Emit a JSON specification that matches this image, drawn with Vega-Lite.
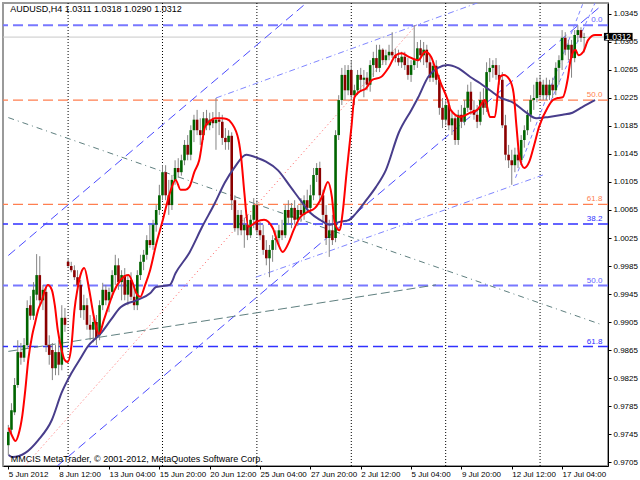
{
"$schema":"https://vega.github.io/schema/vega-lite/v6.json",
"width":605,"height":463,
"autosize":{"type":"none"},
"padding":{"left":3,"top":3,"right":32,"bottom":14},
"background":"#ffffff",
"config":{"view":{"stroke":"#9a9a9a","strokeWidth":2},"font":"Liberation Sans Narrow, Liberation Sans, sans-serif"},
"datasets":{
"candles":[
{"n":0,"o":0.9729,"h":0.9758,"l":0.9715,"c":0.9748},
{"n":1,"o":0.9751,"h":0.9789,"l":0.9742,"c":0.9779},
{"n":2,"o":0.9776,"h":0.9825,"l":0.9772,"c":0.9815},
{"n":3,"o":0.9815,"h":0.9879,"l":0.9811,"c":0.9862},
{"n":4,"o":0.9862,"h":0.9875,"l":0.9844,"c":0.9854},
{"n":5,"o":0.9854,"h":0.9882,"l":0.9848,"c":0.9872},
{"n":6,"o":0.9872,"h":0.9936,"l":0.9868,"c":0.9925},
{"n":7,"o":0.9929,"h":0.9942,"l":0.9908,"c":0.9914},
{"n":8,"o":0.9914,"h":0.9962,"l":0.9908,"c":0.9951},
{"n":9,"o":0.9944,"h":1.0002,"l":0.9936,"c":0.9972},
{"n":10,"o":0.9972,"h":0.9999,"l":0.9929,"c":0.9936},
{"n":11,"o":0.9936,"h":0.9958,"l":0.9922,"c":0.9951},
{"n":12,"o":0.9948,"h":0.9954,"l":0.9862,"c":0.9872},
{"n":13,"o":0.9872,"h":0.9886,"l":0.9844,"c":0.9858},
{"n":14,"o":0.9865,"h":0.9875,"l":0.9822,"c":0.9839},
{"n":15,"o":0.9839,"h":0.9872,"l":0.9829,"c":0.9862},
{"n":16,"o":0.9862,"h":0.9879,"l":0.9829,"c":0.9844},
{"n":17,"o":0.9844,"h":0.9929,"l":0.9836,"c":0.9911},
{"n":18,"o":0.9911,"h":0.9925,"l":0.9891,"c":0.9901},
{"n":19,"o":0.9991,"h":0.9996,"l":0.9982,"c":0.9985},
{"n":20,"o":0.9985,"h":0.9991,"l":0.9976,"c":0.9979},
{"n":21,"o":0.9979,"h":0.9986,"l":0.9965,"c":0.9969},
{"n":22,"o":0.9969,"h":0.9979,"l":0.9951,"c":0.9958},
{"n":23,"o":0.9958,"h":0.9965,"l":0.9911,"c":0.9922},
{"n":24,"o":0.9922,"h":0.9944,"l":0.9908,"c":0.9929},
{"n":25,"o":0.9929,"h":0.9939,"l":0.9894,"c":0.9901},
{"n":26,"o":0.9901,"h":0.9915,"l":0.9879,"c":0.9894},
{"n":27,"o":0.9894,"h":0.9911,"l":0.9876,"c":0.9905},
{"n":28,"o":0.9905,"h":0.9915,"l":0.9872,"c":0.9882},
{"n":29,"o":0.9886,"h":0.9936,"l":0.9879,"c":0.9929},
{"n":30,"o":0.9929,"h":0.9961,"l":0.9922,"c":0.9951},
{"n":31,"o":0.9951,"h":0.9958,"l":0.9929,"c":0.9936},
{"n":32,"o":0.9936,"h":0.9954,"l":0.9919,"c":0.9948},
{"n":33,"o":0.9948,"h":0.9979,"l":0.9939,"c":0.9972},
{"n":34,"o":0.9972,"h":1.0001,"l":0.9958,"c":0.9986},
{"n":35,"o":0.9986,"h":0.9996,"l":0.9951,"c":0.9962},
{"n":36,"o":0.9962,"h":0.9979,"l":0.9936,"c":0.9972},
{"n":37,"o":0.9972,"h":0.9982,"l":0.9936,"c":0.9944},
{"n":38,"o":0.9944,"h":0.9972,"l":0.9929,"c":0.9965},
{"n":39,"o":0.9965,"h":0.9976,"l":0.9936,"c":0.9941},
{"n":40,"o":0.9941,"h":0.9958,"l":0.9922,"c":0.9929},
{"n":41,"o":0.9929,"h":0.9979,"l":0.9922,"c":0.9972},
{"n":42,"o":0.9972,"h":1.0001,"l":0.9965,"c":0.9991},
{"n":43,"o":0.9991,"h":1.0008,"l":0.9979,"c":1.0001},
{"n":44,"o":1.0001,"h":1.0029,"l":0.9994,"c":1.0022},
{"n":45,"o":1.0022,"h":1.0044,"l":1.0011,"c":1.0015},
{"n":46,"o":1.0015,"h":1.0051,"l":1.0008,"c":1.0044},
{"n":47,"o":1.0044,"h":1.0072,"l":1.0034,"c":1.0065},
{"n":48,"o":1.0065,"h":1.0101,"l":1.0058,"c":1.0086},
{"n":49,"o":1.0086,"h":1.0129,"l":1.0079,"c":1.0119},
{"n":50,"o":1.0119,"h":1.0129,"l":1.0079,"c":1.0086},
{"n":51,"o":1.0086,"h":1.0108,"l":1.0058,"c":1.0072},
{"n":52,"o":1.0072,"h":1.0115,"l":1.0065,"c":1.0108},
{"n":53,"o":1.0108,"h":1.0136,"l":1.0101,"c":1.0125},
{"n":54,"o":1.0125,"h":1.0139,"l":1.0111,"c":1.0119},
{"n":55,"o":1.0119,"h":1.0144,"l":1.0114,"c":1.0136},
{"n":56,"o":1.0136,"h":1.0165,"l":1.0129,"c":1.0158},
{"n":57,"o":1.0158,"h":1.0172,"l":1.0136,"c":1.0144},
{"n":58,"o":1.0144,"h":1.0186,"l":1.0136,"c":1.0179},
{"n":59,"o":1.0179,"h":1.0201,"l":1.0162,"c":1.0194},
{"n":60,"o":1.0194,"h":1.0208,"l":1.0172,"c":1.0179},
{"n":61,"o":1.0179,"h":1.0196,"l":1.0158,"c":1.0172},
{"n":62,"o":1.0172,"h":1.0205,"l":1.0165,"c":1.0196},
{"n":63,"o":1.0196,"h":1.0208,"l":1.0179,"c":1.0186},
{"n":64,"o":1.0186,"h":1.0204,"l":1.0179,"c":1.0194},
{"n":65,"o":1.0194,"h":1.0205,"l":1.0182,"c":1.0189},
{"n":66,"o":1.0189,"h":1.0225,"l":1.0151,"c":1.0194},
{"n":67,"o":1.0194,"h":1.0205,"l":1.0172,"c":1.0191},
{"n":68,"o":1.0191,"h":1.0201,"l":1.0158,"c":1.0168},
{"n":69,"o":1.0168,"h":1.0182,"l":1.0151,"c":1.0162},
{"n":70,"o":1.0162,"h":1.0179,"l":1.0151,"c":1.0171},
{"n":71,"o":1.0171,"h":1.0176,"l":1.0065,"c":1.0079},
{"n":72,"o":1.0079,"h":1.0086,"l":1.0034,"c":1.0039},
{"n":73,"o":1.0039,"h":1.0065,"l":1.0029,"c":1.0058},
{"n":74,"o":1.0058,"h":1.0065,"l":1.0029,"c":1.0036},
{"n":75,"o":1.0036,"h":1.0054,"l":1.0011,"c":1.0044},
{"n":76,"o":1.0044,"h":1.0058,"l":1.0022,"c":1.0029},
{"n":77,"o":1.0029,"h":1.0058,"l":1.0025,"c":1.0051},
{"n":78,"o":1.0051,"h":1.0082,"l":1.0039,"c":1.0072},
{"n":79,"o":1.0072,"h":1.0079,"l":1.0029,"c":1.0036},
{"n":80,"o":1.0036,"h":1.0048,"l":1.0022,"c":1.0029},
{"n":81,"o":1.0029,"h":1.0044,"l":1.0001,"c":1.0008},
{"n":82,"o":1.0008,"h":1.0022,"l":0.9986,"c":0.9996},
{"n":83,"o":0.9996,"h":1.0015,"l":0.9969,"c":1.0008},
{"n":84,"o":1.0008,"h":1.0029,"l":0.9991,"c":1.0022},
{"n":85,"o":1.0022,"h":1.0036,"l":1.0008,"c":1.0025},
{"n":86,"o":1.0025,"h":1.0044,"l":1.0015,"c":1.0036},
{"n":87,"o":1.0036,"h":1.0051,"l":1.0022,"c":1.0029},
{"n":88,"o":1.0029,"h":1.0072,"l":1.0025,"c":1.0065},
{"n":89,"o":1.0065,"h":1.0079,"l":1.0044,"c":1.0054},
{"n":90,"o":1.0054,"h":1.0075,"l":1.0039,"c":1.0068},
{"n":91,"o":1.0068,"h":1.0079,"l":1.0044,"c":1.0051},
{"n":92,"o":1.0051,"h":1.0072,"l":1.0042,"c":1.0065},
{"n":93,"o":1.0065,"h":1.0082,"l":1.0048,"c":1.0058},
{"n":94,"o":1.0058,"h":1.0086,"l":1.0051,"c":1.0079},
{"n":95,"o":1.0079,"h":1.0094,"l":1.0062,"c":1.0068},
{"n":96,"o":1.0068,"h":1.0101,"l":1.0062,"c":1.0086},
{"n":97,"o":1.0086,"h":1.0125,"l":1.0079,"c":1.0115},
{"n":98,"o":1.0115,"h":1.0132,"l":1.0105,"c":1.0125},
{"n":99,"o":1.0125,"h":1.0134,"l":1.0079,"c":1.0086},
{"n":100,"o":1.0086,"h":1.0094,"l":1.0048,"c":1.0058},
{"n":101,"o":1.0058,"h":1.0072,"l":1.0015,"c":1.0025},
{"n":102,"o":1.0025,"h":1.0051,"l":0.9998,"c":1.0036},
{"n":103,"o":1.0036,"h":1.0058,"l":1.0015,"c":1.0022},
{"n":104,"o":1.0025,"h":1.0179,"l":1.0019,"c":1.0172},
{"n":105,"o":1.0172,"h":1.0229,"l":1.0165,"c":1.0222},
{"n":106,"o":1.0222,"h":1.0268,"l":1.0215,"c":1.0258},
{"n":107,"o":1.0258,"h":1.0272,"l":1.0222,"c":1.0236},
{"n":108,"o":1.0236,"h":1.0272,"l":1.0229,"c":1.0265},
{"n":109,"o":1.0265,"h":1.0279,"l":1.0222,"c":1.0229},
{"n":110,"o":1.0229,"h":1.0244,"l":1.0215,"c":1.0236},
{"n":111,"o":1.0236,"h":1.0265,"l":1.0229,"c":1.0258},
{"n":112,"o":1.0258,"h":1.0268,"l":1.0234,"c":1.0251},
{"n":113,"o":1.0251,"h":1.0265,"l":1.0226,"c":1.0254},
{"n":114,"o":1.0254,"h":1.0262,"l":1.0236,"c":1.0244},
{"n":115,"o":1.0244,"h":1.0279,"l":1.0234,"c":1.0272},
{"n":116,"o":1.0272,"h":1.0291,"l":1.0255,"c":1.0282},
{"n":117,"o":1.0282,"h":1.0301,"l":1.0262,"c":1.0268},
{"n":118,"o":1.0268,"h":1.0301,"l":1.0262,"c":1.0294},
{"n":119,"o":1.0294,"h":1.0296,"l":1.0272,"c":1.0279},
{"n":120,"o":1.0279,"h":1.0294,"l":1.0272,"c":1.0286},
{"n":121,"o":1.0286,"h":1.0301,"l":1.0279,"c":1.0291},
{"n":122,"o":1.0291,"h":1.0319,"l":1.0282,"c":1.0286},
{"n":123,"o":1.0286,"h":1.0296,"l":1.0276,"c":1.0282},
{"n":124,"o":1.0282,"h":1.0294,"l":1.0271,"c":1.0276},
{"n":125,"o":1.0276,"h":1.0291,"l":1.0268,"c":1.0284},
{"n":126,"o":1.0284,"h":1.0291,"l":1.0265,"c":1.0272},
{"n":127,"o":1.0272,"h":1.0282,"l":1.0251,"c":1.0258},
{"n":128,"o":1.0258,"h":1.0279,"l":1.0248,"c":1.0272},
{"n":129,"o":1.0272,"h":1.0329,"l":1.0265,"c":1.0279},
{"n":130,"o":1.0279,"h":1.0305,"l":1.0268,"c":1.0296},
{"n":131,"o":1.0296,"h":1.0308,"l":1.0276,"c":1.0286},
{"n":132,"o":1.0286,"h":1.0305,"l":1.0272,"c":1.0294},
{"n":133,"o":1.0294,"h":1.0301,"l":1.0268,"c":1.0276},
{"n":134,"o":1.0276,"h":1.0286,"l":1.0248,"c":1.0254},
{"n":135,"o":1.0254,"h":1.0276,"l":1.0248,"c":1.0271},
{"n":136,"o":1.0271,"h":1.0279,"l":1.0244,"c":1.0251},
{"n":137,"o":1.0251,"h":1.0258,"l":1.0201,"c":1.0211},
{"n":138,"o":1.0211,"h":1.0225,"l":1.0182,"c":1.0194},
{"n":139,"o":1.0194,"h":1.0222,"l":1.0186,"c":1.0215},
{"n":140,"o":1.0215,"h":1.0222,"l":1.0179,"c":1.0186},
{"n":141,"o":1.0186,"h":1.0205,"l":1.0172,"c":1.0196},
{"n":142,"o":1.0196,"h":1.0201,"l":1.0158,"c":1.0165},
{"n":143,"o":1.0165,"h":1.0208,"l":1.0158,"c":1.0201},
{"n":144,"o":1.0201,"h":1.0215,"l":1.0182,"c":1.0191},
{"n":145,"o":1.0191,"h":1.0222,"l":1.0186,"c":1.0211},
{"n":146,"o":1.0211,"h":1.0244,"l":1.0205,"c":1.0234},
{"n":147,"o":1.0234,"h":1.0248,"l":1.0201,"c":1.0208},
{"n":148,"o":1.0208,"h":1.0222,"l":1.0194,"c":1.0201},
{"n":149,"o":1.0201,"h":1.0215,"l":1.0182,"c":1.0191},
{"n":150,"o":1.0191,"h":1.0234,"l":1.0186,"c":1.0222},
{"n":151,"o":1.0222,"h":1.0239,"l":1.0201,"c":1.0211},
{"n":152,"o":1.0211,"h":1.0276,"l":1.0205,"c":1.0262},
{"n":153,"o":1.0262,"h":1.0282,"l":1.0248,"c":1.0268},
{"n":154,"o":1.0268,"h":1.0279,"l":1.0254,"c":1.0272},
{"n":155,"o":1.0272,"h":1.0282,"l":1.0251,"c":1.0258},
{"n":156,"o":1.0258,"h":1.0272,"l":1.0244,"c":1.0251},
{"n":157,"o":1.0251,"h":1.0262,"l":1.0182,"c":1.0186},
{"n":158,"o":1.0186,"h":1.0201,"l":1.0136,"c":1.0144},
{"n":159,"o":1.0144,"h":1.0158,"l":1.0125,"c":1.0136},
{"n":160,"o":1.0136,"h":1.0151,"l":1.0101,"c":1.0129},
{"n":161,"o":1.0129,"h":1.0154,"l":1.0119,"c":1.0144},
{"n":162,"o":1.0144,"h":1.0154,"l":1.0125,"c":1.0136},
{"n":163,"o":1.0136,"h":1.0172,"l":1.0129,"c":1.0165},
{"n":164,"o":1.0165,"h":1.0186,"l":1.0154,"c":1.0179},
{"n":165,"o":1.0179,"h":1.0208,"l":1.0172,"c":1.0201},
{"n":166,"o":1.0201,"h":1.0229,"l":1.0191,"c":1.0222},
{"n":167,"o":1.0222,"h":1.0244,"l":1.0208,"c":1.0225},
{"n":168,"o":1.0225,"h":1.0254,"l":1.0219,"c":1.0248},
{"n":169,"o":1.0248,"h":1.0258,"l":1.0222,"c":1.0229},
{"n":170,"o":1.0229,"h":1.0251,"l":1.0222,"c":1.0244},
{"n":171,"o":1.0244,"h":1.0254,"l":1.0222,"c":1.0229},
{"n":172,"o":1.0229,"h":1.0251,"l":1.0222,"c":1.0244},
{"n":173,"o":1.0244,"h":1.0254,"l":1.0225,"c":1.0236},
{"n":174,"o":1.0236,"h":1.0276,"l":1.0229,"c":1.0268},
{"n":175,"o":1.0268,"h":1.0286,"l":1.0244,"c":1.0279},
{"n":176,"o":1.0279,"h":1.0322,"l":1.0265,"c":1.0311},
{"n":177,"o":1.0311,"h":1.0319,"l":1.0286,"c":1.0294},
{"n":178,"o":1.0294,"h":1.0308,"l":1.0279,"c":1.0301},
{"n":179,"o":1.0301,"h":1.0308,"l":1.0254,"c":1.0282},
{"n":180,"o":1.0282,"h":1.0322,"l":1.0276,"c":1.0315},
{"n":181,"o":1.0315,"h":1.0329,"l":1.0305,"c":1.0322},
{"n":182,"o":1.0322,"h":1.0326,"l":1.0305,"c":1.0311},
{"n":183,"o":1.0311,"h":1.0318,"l":1.0290,"c":1.0312}
],
"redma":[
{"n":0.1,"p":0.9754},{"n":1.34,"p":0.9741},{"n":2.28,"p":0.9735},{"n":3.22,"p":0.9744},{"n":4.47,"p":0.9772},{"n":5.4,"p":0.9808},{"n":6.34,"p":0.9851},{"n":7.59,"p":0.9886},{"n":8.52,"p":0.9904},{"n":9.46,"p":0.9922},{"n":10.71,"p":0.9936},{"n":11.65,"p":0.9951},{"n":12.58,"p":0.9958},{"n":13.83,"p":0.9951},{"n":14.77,"p":0.9929},{"n":15.7,"p":0.9894},{"n":16.95,"p":0.9865},{"n":17.89,"p":0.9851},{"n":18.83,"p":0.9848},{"n":20.08,"p":0.9872},{"n":21.01,"p":0.9922},{"n":21.95,"p":0.9951},{"n":23.2,"p":0.9976},{"n":24.13,"p":0.9982},{"n":25.7,"p":0.9951},{"n":27.26,"p":0.9911},{"n":28.82,"p":0.9888},{"n":30.38,"p":0.9908},{"n":31.94,"p":0.9929},{"n":33.5,"p":0.9948},{"n":35.69,"p":0.9965},{"n":38.19,"p":0.9972},{"n":39.75,"p":0.9958},{"n":40.68,"p":0.9946},{"n":41.93,"p":0.9941},{"n":43.49,"p":0.9958},{"n":45.06,"p":0.9979},{"n":46.93,"p":1.0015},{"n":49.12,"p":1.0051},{"n":51.31,"p":1.0089},{"n":53.18,"p":1.0108},{"n":54.74,"p":1.0094},{"n":56.3,"p":1.0094},{"n":57.55,"p":1.0098},{"n":59.11,"p":1.0119},{"n":60.67,"p":1.0136},{"n":62.54,"p":1.0184},{"n":64.1,"p":1.0192},{"n":65.66,"p":1.0196},{"n":67.85,"p":1.0196},{"n":69.41,"p":1.0195},{"n":70.97,"p":1.0189},{"n":73.16,"p":1.0165},{"n":74.09,"p":1.0136},{"n":75.03,"p":1.0089},{"n":76.28,"p":1.0041},{"n":78.78,"p":1.0048},{"n":81.27,"p":1.0051},{"n":84.08,"p":1.0039},{"n":85.64,"p":1.0018},{"n":87.2,"p":1.0005},{"n":89.08,"p":1.0018},{"n":90.64,"p":1.0036},{"n":92.83,"p":1.0055},{"n":95.01,"p":1.0062},{"n":97.51,"p":1.0068},{"n":99.7,"p":1.0084},{"n":101.57,"p":1.0105},{"n":102.82,"p":1.0084},{"n":103.76,"p":1.0046},{"n":105.32,"p":1.0036},{"n":106.25,"p":1.0061},{"n":107.5,"p":1.0118},{"n":109.06,"p":1.0184},{"n":110.0,"p":1.0226},{"n":111.56,"p":1.0234},{"n":113.75,"p":1.0239},{"n":115.62,"p":1.0251},{"n":118.43,"p":1.0255},{"n":120.93,"p":1.0269},{"n":123.11,"p":1.0286},{"n":124.99,"p":1.0289},{"n":127.17,"p":1.0284},{"n":130.29,"p":1.0279},{"n":132.48,"p":1.0291},{"n":134.35,"p":1.0284},{"n":135.6,"p":1.0269},{"n":137.47,"p":1.0246},{"n":139.66,"p":1.0222},{"n":140.59,"p":1.0208},{"n":143.71,"p":1.0198},{"n":146.84,"p":1.0204},{"n":149.02,"p":1.0208},{"n":151.52,"p":1.0222},{"n":153.08,"p":1.0198},{"n":154.64,"p":1.0198},{"n":156.2,"p":1.0255},{"n":157.45,"p":1.0258},{"n":159.33,"p":1.0251},{"n":160.58,"p":1.0232},{"n":161.51,"p":1.0184},{"n":162.45,"p":1.0141},{"n":164.01,"p":1.0125},{"n":165.57,"p":1.0134},{"n":167.13,"p":1.0158},{"n":168.69,"p":1.0184},{"n":171.5,"p":1.0212},{"n":173.06,"p":1.0222},{"n":174.62,"p":1.0225},{"n":176.18,"p":1.0226},{"n":177.74,"p":1.0251},{"n":178.68,"p":1.0279},{"n":180.24,"p":1.0294},{"n":181.18,"p":1.0286},{"n":182.74,"p":1.0291},{"n":184.3,"p":1.0308},{"n":186.49,"p":1.0315},{"n":188.67,"p":1.0315}
],
"bluema":[
{"n":0.1,"p":0.9715},{"n":1.34,"p":0.9712},{"n":5.4,"p":0.9718},{"n":9.46,"p":0.9736},{"n":13.83,"p":0.9765},{"n":16.95,"p":0.9804},{"n":20.08,"p":0.9832},{"n":23.2,"p":0.9855},{"n":25.07,"p":0.9869},{"n":29.45,"p":0.9889},{"n":32.57,"p":0.9908},{"n":35.69,"p":0.9926},{"n":40.68,"p":0.9936},{"n":45.06,"p":0.9946},{"n":46.93,"p":0.9955},{"n":51.31,"p":0.9958},{"n":53.18,"p":0.9975},{"n":57.55,"p":1.0004},{"n":61.61,"p":1.0041},{"n":65.66,"p":1.0075},{"n":68.78,"p":1.0104},{"n":71.91,"p":1.0126},{"n":75.65,"p":1.0144},{"n":79.4,"p":1.0139},{"n":81.89,"p":1.0134},{"n":85.64,"p":1.0122},{"n":89.7,"p":1.0098},{"n":92.83,"p":1.0079},{"n":95.95,"p":1.0061},{"n":99.07,"p":1.0051},{"n":102.19,"p":1.0044},{"n":105.32,"p":1.0048},{"n":108.44,"p":1.0051},{"n":110.62,"p":1.0061},{"n":113.75,"p":1.0079},{"n":116.87,"p":1.0098},{"n":119.99,"p":1.0122},{"n":124.05,"p":1.0175},{"n":128.11,"p":1.0208},{"n":130.29,"p":1.0226},{"n":133.41,"p":1.0255},{"n":136.53,"p":1.0268},{"n":139.66,"p":1.0272},{"n":142.78,"p":1.0268},{"n":146.84,"p":1.0255},{"n":149.96,"p":1.0246},{"n":153.08,"p":1.0236},{"n":156.2,"p":1.0226},{"n":160.58,"p":1.0218},{"n":164.64,"p":1.0204},{"n":167.77,"p":1.0196},{"n":171.83,"p":1.0198},{"n":176.18,"p":1.0201},{"n":179.3,"p":1.0204},{"n":182.42,"p":1.0212},{"n":186.49,"p":1.0222}
],
"lines":[
{"id":"a","n":0,"p":1.0000},{"id":"a","n":94.8,"p":1.0361},
{"id":"b","n":15.53,"p":0.96993},{"id":"b","n":188.4,"p":1.03566},
{"id":"c","n":66,"p":1.0225},{"id":"c","n":149.2,"p":1.0361},
{"id":"d","n":78.66,"p":0.9969},{"id":"d","n":169.9,"p":1.0115},
{"id":"e","n":5.21,"p":0.9699},{"id":"e","n":129.6,"p":1.0329},
{"id":"f","n":0,"p":1.0197},{"id":"f","n":188.7,"p":0.9901},
{"id":"g","n":0,"p":0.9863},{"id":"g","n":135.9,"p":0.9958},
{"id":"h1","n":161.2,"p":1.0111},{"id":"h1","n":182.7,"p":1.0361},
{"id":"h2","n":168.7,"p":1.0184},{"id":"h2","n":186.5,"p":1.0361}
],
"levels":[
{"set":"b1","label":"0.0","p":1.0329},
{"set":"o","label":"50.0","p":1.0222},
{"set":"o","label":"61.8","p":1.0073},
{"set":"b2","label":"38.2","p":1.0045},
{"set":"b1","label":"50.0","p":0.9957},
{"set":"b2","label":"61.8","p":0.9870}
],
"seps":[{"n":19},{"n":49},{"n":79},{"n":109},{"n":139},{"n":169}],
"bid":[{"p":1.0312}],
"texts":[{"pos":"top","t":"AUDUSD,H4  1.0311 1.0318 1.0290 1.0312"},{"pos":"bottom","t":"MMCIS MetaTrader, © 2001-2012, MetaQuotes Software Corp."}]
},
"layer":[
{"data":{"name":"bid"},"mark":{"type":"rule","color":"#c8c8c8","strokeWidth":1},
 "encoding":{"y":{"field":"p","type":"quantitative","scale":{"domain":[0.96993,1.03607],"nice":false,"zero":false},"axis":{"orient":"right","values":[0.9705,0.9745,0.9785,0.9825,0.9865,0.9905,0.9945,0.9985,1.0025,1.0065,1.0105,1.0145,1.0185,1.0225,1.0265,1.0305,1.0345],"format":".4f","labelFontSize":8,"labelColor":"#000000","tickSize":3,"tickColor":"#000000","domainColor":"#000000","labelPadding":2,"grid":false,"title":null,"labelOverlap":false,"labelFlush":false,"labelBound":false}}}},
{"data":{"name":"seps"},"mark":{"type":"rule","color":"#000000","strokeWidth":1,"strokeDash":[1,2]},
 "encoding":{"x":{"field":"n","type":"quantitative","scale":{"domain":[-0.1,189],"nice":false,"zero":false},"axis":{"orient":"bottom","values":[0,16,32,48,64,80,96,112,128,144,160,176],"labelExpr":"['5 Jun 2012','8 Jun 12:00','13 Jun 04:00','15 Jun 20:00','20 Jun 12:00','25 Jun 04:00','27 Jun 20:00','2 Jul 12:00','5 Jul 04:00','9 Jul 20:00','12 Jul 12:00','17 Jul 04:00'][round(datum.value/16)]","labelAlign":"left","labelBaseline":"top","labelFontSize":8,"labelColor":"#000000","tickSize":3,"tickColor":"#000000","domainColor":"#000000","labelPadding":1,"grid":false,"title":null,"labelOverlap":false,"labelFlush":false,"labelBound":false}}}},
{"data":{"name":"levels"},"transform":[{"filter":"datum.set==='o'"}],"mark":{"type":"rule","color":"#ff7f50","strokeWidth":1.3,"strokeDash":[10,5]},
 "encoding":{"y":{"field":"p","type":"quantitative","scale":{"domain":[0.96993,1.03607],"nice":false,"zero":false},"axis":{"orient":"right","values":[0.9705,0.9745,0.9785,0.9825,0.9865,0.9905,0.9945,0.9985,1.0025,1.0065,1.0105,1.0145,1.0185,1.0225,1.0265,1.0305,1.0345],"format":".4f","labelFontSize":8,"labelColor":"#000000","tickSize":3,"tickColor":"#000000","domainColor":"#000000","labelPadding":2,"grid":false,"title":null,"labelOverlap":false,"labelFlush":false,"labelBound":false}}}},
{"data":{"name":"levels"},"transform":[{"filter":"datum.set==='b1'"}],"mark":{"type":"rule","color":"#7878ff","strokeWidth":2,"strokeDash":[10,5]},
 "encoding":{"y":{"field":"p","type":"quantitative","scale":{"domain":[0.96993,1.03607],"nice":false,"zero":false},"axis":{"orient":"right","values":[0.9705,0.9745,0.9785,0.9825,0.9865,0.9905,0.9945,0.9985,1.0025,1.0065,1.0105,1.0145,1.0185,1.0225,1.0265,1.0305,1.0345],"format":".4f","labelFontSize":8,"labelColor":"#000000","tickSize":3,"tickColor":"#000000","domainColor":"#000000","labelPadding":2,"grid":false,"title":null,"labelOverlap":false,"labelFlush":false,"labelBound":false}}}},
{"data":{"name":"levels"},"transform":[{"filter":"datum.set==='b2'"}],"mark":{"type":"rule","color":"#3030ff","strokeWidth":1.3,"strokeDash":[10,5]},
 "encoding":{"y":{"field":"p","type":"quantitative","scale":{"domain":[0.96993,1.03607],"nice":false,"zero":false},"axis":{"orient":"right","values":[0.9705,0.9745,0.9785,0.9825,0.9865,0.9905,0.9945,0.9985,1.0025,1.0065,1.0105,1.0145,1.0185,1.0225,1.0265,1.0305,1.0345],"format":".4f","labelFontSize":8,"labelColor":"#000000","tickSize":3,"tickColor":"#000000","domainColor":"#000000","labelPadding":2,"grid":false,"title":null,"labelOverlap":false,"labelFlush":false,"labelBound":false}}}},
{"data":{"name":"lines"},"transform":[{"filter":"datum.id==='a'||datum.id==='b'"}],"mark":{"type":"line","clip":true,"color":"#4a4aff","strokeWidth":1,"strokeDash":[9,5]},
 "encoding":{"x":{"field":"n","type":"quantitative","scale":{"domain":[-0.1,189],"nice":false,"zero":false},"axis":{"orient":"bottom","values":[0,16,32,48,64,80,96,112,128,144,160,176],"labelExpr":"['5 Jun 2012','8 Jun 12:00','13 Jun 04:00','15 Jun 20:00','20 Jun 12:00','25 Jun 04:00','27 Jun 20:00','2 Jul 12:00','5 Jul 04:00','9 Jul 20:00','12 Jul 12:00','17 Jul 04:00'][round(datum.value/16)]","labelAlign":"left","labelBaseline":"top","labelFontSize":8,"labelColor":"#000000","tickSize":3,"tickColor":"#000000","domainColor":"#000000","labelPadding":1,"grid":false,"title":null,"labelOverlap":false,"labelFlush":false,"labelBound":false}},
  "y":{"field":"p","type":"quantitative","scale":{"domain":[0.96993,1.03607],"nice":false,"zero":false},"axis":{"orient":"right","values":[0.9705,0.9745,0.9785,0.9825,0.9865,0.9905,0.9945,0.9985,1.0025,1.0065,1.0105,1.0145,1.0185,1.0225,1.0265,1.0305,1.0345],"format":".4f","labelFontSize":8,"labelColor":"#000000","tickSize":3,"tickColor":"#000000","domainColor":"#000000","labelPadding":2,"grid":false,"title":null,"labelOverlap":false,"labelFlush":false,"labelBound":false}},"detail":{"field":"id"}}},
{"data":{"name":"lines"},"transform":[{"filter":"datum.id==='c'||datum.id==='d'"}],"mark":{"type":"line","clip":true,"color":"#7f86ff","strokeWidth":1,"strokeDash":[6,3,1,3]},
 "encoding":{"x":{"field":"n","type":"quantitative","scale":{"domain":[-0.1,189],"nice":false,"zero":false},"axis":{"orient":"bottom","values":[0,16,32,48,64,80,96,112,128,144,160,176],"labelExpr":"['5 Jun 2012','8 Jun 12:00','13 Jun 04:00','15 Jun 20:00','20 Jun 12:00','25 Jun 04:00','27 Jun 20:00','2 Jul 12:00','5 Jul 04:00','9 Jul 20:00','12 Jul 12:00','17 Jul 04:00'][round(datum.value/16)]","labelAlign":"left","labelBaseline":"top","labelFontSize":8,"labelColor":"#000000","tickSize":3,"tickColor":"#000000","domainColor":"#000000","labelPadding":1,"grid":false,"title":null,"labelOverlap":false,"labelFlush":false,"labelBound":false}},
  "y":{"field":"p","type":"quantitative","scale":{"domain":[0.96993,1.03607],"nice":false,"zero":false},"axis":{"orient":"right","values":[0.9705,0.9745,0.9785,0.9825,0.9865,0.9905,0.9945,0.9985,1.0025,1.0065,1.0105,1.0145,1.0185,1.0225,1.0265,1.0305,1.0345],"format":".4f","labelFontSize":8,"labelColor":"#000000","tickSize":3,"tickColor":"#000000","domainColor":"#000000","labelPadding":2,"grid":false,"title":null,"labelOverlap":false,"labelFlush":false,"labelBound":false}},"detail":{"field":"id"}}},
{"data":{"name":"lines"},"transform":[{"filter":"datum.id==='h1'||datum.id==='h2'"}],"mark":{"type":"line","clip":true,"color":"#7f86ff","strokeWidth":1,"strokeDash":[4,3]},
 "encoding":{"x":{"field":"n","type":"quantitative","scale":{"domain":[-0.1,189],"nice":false,"zero":false},"axis":{"orient":"bottom","values":[0,16,32,48,64,80,96,112,128,144,160,176],"labelExpr":"['5 Jun 2012','8 Jun 12:00','13 Jun 04:00','15 Jun 20:00','20 Jun 12:00','25 Jun 04:00','27 Jun 20:00','2 Jul 12:00','5 Jul 04:00','9 Jul 20:00','12 Jul 12:00','17 Jul 04:00'][round(datum.value/16)]","labelAlign":"left","labelBaseline":"top","labelFontSize":8,"labelColor":"#000000","tickSize":3,"tickColor":"#000000","domainColor":"#000000","labelPadding":1,"grid":false,"title":null,"labelOverlap":false,"labelFlush":false,"labelBound":false}},
  "y":{"field":"p","type":"quantitative","scale":{"domain":[0.96993,1.03607],"nice":false,"zero":false},"axis":{"orient":"right","values":[0.9705,0.9745,0.9785,0.9825,0.9865,0.9905,0.9945,0.9985,1.0025,1.0065,1.0105,1.0145,1.0185,1.0225,1.0265,1.0305,1.0345],"format":".4f","labelFontSize":8,"labelColor":"#000000","tickSize":3,"tickColor":"#000000","domainColor":"#000000","labelPadding":2,"grid":false,"title":null,"labelOverlap":false,"labelFlush":false,"labelBound":false}},"detail":{"field":"id"}}},
{"data":{"name":"lines"},"transform":[{"filter":"datum.id==='e'"}],"mark":{"type":"line","clip":true,"color":"#ff5a5a","strokeWidth":1,"strokeDash":[1,3]},
 "encoding":{"x":{"field":"n","type":"quantitative","scale":{"domain":[-0.1,189],"nice":false,"zero":false},"axis":{"orient":"bottom","values":[0,16,32,48,64,80,96,112,128,144,160,176],"labelExpr":"['5 Jun 2012','8 Jun 12:00','13 Jun 04:00','15 Jun 20:00','20 Jun 12:00','25 Jun 04:00','27 Jun 20:00','2 Jul 12:00','5 Jul 04:00','9 Jul 20:00','12 Jul 12:00','17 Jul 04:00'][round(datum.value/16)]","labelAlign":"left","labelBaseline":"top","labelFontSize":8,"labelColor":"#000000","tickSize":3,"tickColor":"#000000","domainColor":"#000000","labelPadding":1,"grid":false,"title":null,"labelOverlap":false,"labelFlush":false,"labelBound":false}},
  "y":{"field":"p","type":"quantitative","scale":{"domain":[0.96993,1.03607],"nice":false,"zero":false},"axis":{"orient":"right","values":[0.9705,0.9745,0.9785,0.9825,0.9865,0.9905,0.9945,0.9985,1.0025,1.0065,1.0105,1.0145,1.0185,1.0225,1.0265,1.0305,1.0345],"format":".4f","labelFontSize":8,"labelColor":"#000000","tickSize":3,"tickColor":"#000000","domainColor":"#000000","labelPadding":2,"grid":false,"title":null,"labelOverlap":false,"labelFlush":false,"labelBound":false}}}},
{"data":{"name":"lines"},"transform":[{"filter":"datum.id==='f'"}],"mark":{"type":"line","clip":true,"color":"#5f7f7f","strokeWidth":1,"strokeDash":[6,4,1,4]},
 "encoding":{"x":{"field":"n","type":"quantitative","scale":{"domain":[-0.1,189],"nice":false,"zero":false},"axis":{"orient":"bottom","values":[0,16,32,48,64,80,96,112,128,144,160,176],"labelExpr":"['5 Jun 2012','8 Jun 12:00','13 Jun 04:00','15 Jun 20:00','20 Jun 12:00','25 Jun 04:00','27 Jun 20:00','2 Jul 12:00','5 Jul 04:00','9 Jul 20:00','12 Jul 12:00','17 Jul 04:00'][round(datum.value/16)]","labelAlign":"left","labelBaseline":"top","labelFontSize":8,"labelColor":"#000000","tickSize":3,"tickColor":"#000000","domainColor":"#000000","labelPadding":1,"grid":false,"title":null,"labelOverlap":false,"labelFlush":false,"labelBound":false}},
  "y":{"field":"p","type":"quantitative","scale":{"domain":[0.96993,1.03607],"nice":false,"zero":false},"axis":{"orient":"right","values":[0.9705,0.9745,0.9785,0.9825,0.9865,0.9905,0.9945,0.9985,1.0025,1.0065,1.0105,1.0145,1.0185,1.0225,1.0265,1.0305,1.0345],"format":".4f","labelFontSize":8,"labelColor":"#000000","tickSize":3,"tickColor":"#000000","domainColor":"#000000","labelPadding":2,"grid":false,"title":null,"labelOverlap":false,"labelFlush":false,"labelBound":false}}}},
{"data":{"name":"lines"},"transform":[{"filter":"datum.id==='g'"}],"mark":{"type":"line","clip":true,"color":"#5f7f7f","strokeWidth":1,"strokeDash":[9,4]},
 "encoding":{"x":{"field":"n","type":"quantitative","scale":{"domain":[-0.1,189],"nice":false,"zero":false},"axis":{"orient":"bottom","values":[0,16,32,48,64,80,96,112,128,144,160,176],"labelExpr":"['5 Jun 2012','8 Jun 12:00','13 Jun 04:00','15 Jun 20:00','20 Jun 12:00','25 Jun 04:00','27 Jun 20:00','2 Jul 12:00','5 Jul 04:00','9 Jul 20:00','12 Jul 12:00','17 Jul 04:00'][round(datum.value/16)]","labelAlign":"left","labelBaseline":"top","labelFontSize":8,"labelColor":"#000000","tickSize":3,"tickColor":"#000000","domainColor":"#000000","labelPadding":1,"grid":false,"title":null,"labelOverlap":false,"labelFlush":false,"labelBound":false}},
  "y":{"field":"p","type":"quantitative","scale":{"domain":[0.96993,1.03607],"nice":false,"zero":false},"axis":{"orient":"right","values":[0.9705,0.9745,0.9785,0.9825,0.9865,0.9905,0.9945,0.9985,1.0025,1.0065,1.0105,1.0145,1.0185,1.0225,1.0265,1.0305,1.0345],"format":".4f","labelFontSize":8,"labelColor":"#000000","tickSize":3,"tickColor":"#000000","domainColor":"#000000","labelPadding":2,"grid":false,"title":null,"labelOverlap":false,"labelFlush":false,"labelBound":false}}}},
{"data":{"name":"candles"},"mark":{"type":"rule","color":"#858585","strokeWidth":1},
 "encoding":{"x":{"field":"n","type":"quantitative","scale":{"domain":[-0.1,189],"nice":false,"zero":false},"axis":{"orient":"bottom","values":[0,16,32,48,64,80,96,112,128,144,160,176],"labelExpr":"['5 Jun 2012','8 Jun 12:00','13 Jun 04:00','15 Jun 20:00','20 Jun 12:00','25 Jun 04:00','27 Jun 20:00','2 Jul 12:00','5 Jul 04:00','9 Jul 20:00','12 Jul 12:00','17 Jul 04:00'][round(datum.value/16)]","labelAlign":"left","labelBaseline":"top","labelFontSize":8,"labelColor":"#000000","tickSize":3,"tickColor":"#000000","domainColor":"#000000","labelPadding":1,"grid":false,"title":null,"labelOverlap":false,"labelFlush":false,"labelBound":false}},
  "y":{"field":"l","type":"quantitative","scale":{"domain":[0.96993,1.03607],"nice":false,"zero":false},"axis":{"orient":"right","values":[0.9705,0.9745,0.9785,0.9825,0.9865,0.9905,0.9945,0.9985,1.0025,1.0065,1.0105,1.0145,1.0185,1.0225,1.0265,1.0305,1.0345],"format":".4f","labelFontSize":8,"labelColor":"#000000","tickSize":3,"tickColor":"#000000","domainColor":"#000000","labelPadding":2,"grid":false,"title":null,"labelOverlap":false,"labelFlush":false,"labelBound":false}},"y2":{"field":"h"}}},
{"data":{"name":"candles"},"mark":{"type":"bar","size":2.6},
 "encoding":{"x":{"field":"n","type":"quantitative","scale":{"domain":[-0.1,189],"nice":false,"zero":false},"axis":{"orient":"bottom","values":[0,16,32,48,64,80,96,112,128,144,160,176],"labelExpr":"['5 Jun 2012','8 Jun 12:00','13 Jun 04:00','15 Jun 20:00','20 Jun 12:00','25 Jun 04:00','27 Jun 20:00','2 Jul 12:00','5 Jul 04:00','9 Jul 20:00','12 Jul 12:00','17 Jul 04:00'][round(datum.value/16)]","labelAlign":"left","labelBaseline":"top","labelFontSize":8,"labelColor":"#000000","tickSize":3,"tickColor":"#000000","domainColor":"#000000","labelPadding":1,"grid":false,"title":null,"labelOverlap":false,"labelFlush":false,"labelBound":false}},
  "y":{"field":"o","type":"quantitative","scale":{"domain":[0.96993,1.03607],"nice":false,"zero":false},"axis":{"orient":"right","values":[0.9705,0.9745,0.9785,0.9825,0.9865,0.9905,0.9945,0.9985,1.0025,1.0065,1.0105,1.0145,1.0185,1.0225,1.0265,1.0305,1.0345],"format":".4f","labelFontSize":8,"labelColor":"#000000","tickSize":3,"tickColor":"#000000","domainColor":"#000000","labelPadding":2,"grid":false,"title":null,"labelOverlap":false,"labelFlush":false,"labelBound":false}},"y2":{"field":"c"},
  "color":{"condition":{"test":"datum.c>=datum.o","value":"#006400"},"value":"#8b0000"}}},
{"data":{"name":"bluema"},"mark":{"type":"line","color":"#483d8b","strokeWidth":2,"interpolate":"monotone"},
 "encoding":{"x":{"field":"n","type":"quantitative","scale":{"domain":[-0.1,189],"nice":false,"zero":false},"axis":{"orient":"bottom","values":[0,16,32,48,64,80,96,112,128,144,160,176],"labelExpr":"['5 Jun 2012','8 Jun 12:00','13 Jun 04:00','15 Jun 20:00','20 Jun 12:00','25 Jun 04:00','27 Jun 20:00','2 Jul 12:00','5 Jul 04:00','9 Jul 20:00','12 Jul 12:00','17 Jul 04:00'][round(datum.value/16)]","labelAlign":"left","labelBaseline":"top","labelFontSize":8,"labelColor":"#000000","tickSize":3,"tickColor":"#000000","domainColor":"#000000","labelPadding":1,"grid":false,"title":null,"labelOverlap":false,"labelFlush":false,"labelBound":false}},
  "y":{"field":"p","type":"quantitative","scale":{"domain":[0.96993,1.03607],"nice":false,"zero":false},"axis":{"orient":"right","values":[0.9705,0.9745,0.9785,0.9825,0.9865,0.9905,0.9945,0.9985,1.0025,1.0065,1.0105,1.0145,1.0185,1.0225,1.0265,1.0305,1.0345],"format":".4f","labelFontSize":8,"labelColor":"#000000","tickSize":3,"tickColor":"#000000","domainColor":"#000000","labelPadding":2,"grid":false,"title":null,"labelOverlap":false,"labelFlush":false,"labelBound":false}}}},
{"data":{"name":"redma"},"mark":{"type":"line","color":"#ff0000","strokeWidth":2,"interpolate":"monotone"},
 "encoding":{"x":{"field":"n","type":"quantitative","scale":{"domain":[-0.1,189],"nice":false,"zero":false},"axis":{"orient":"bottom","values":[0,16,32,48,64,80,96,112,128,144,160,176],"labelExpr":"['5 Jun 2012','8 Jun 12:00','13 Jun 04:00','15 Jun 20:00','20 Jun 12:00','25 Jun 04:00','27 Jun 20:00','2 Jul 12:00','5 Jul 04:00','9 Jul 20:00','12 Jul 12:00','17 Jul 04:00'][round(datum.value/16)]","labelAlign":"left","labelBaseline":"top","labelFontSize":8,"labelColor":"#000000","tickSize":3,"tickColor":"#000000","domainColor":"#000000","labelPadding":1,"grid":false,"title":null,"labelOverlap":false,"labelFlush":false,"labelBound":false}},
  "y":{"field":"p","type":"quantitative","scale":{"domain":[0.96993,1.03607],"nice":false,"zero":false},"axis":{"orient":"right","values":[0.9705,0.9745,0.9785,0.9825,0.9865,0.9905,0.9945,0.9985,1.0025,1.0065,1.0105,1.0145,1.0185,1.0225,1.0265,1.0305,1.0345],"format":".4f","labelFontSize":8,"labelColor":"#000000","tickSize":3,"tickColor":"#000000","domainColor":"#000000","labelPadding":2,"grid":false,"title":null,"labelOverlap":false,"labelFlush":false,"labelBound":false}}}},
{"data":{"name":"levels"},"transform":[{"filter":"datum.set==='o'"}],"mark":{"type":"text","align":"right","baseline":"bottom","dy":-1,"fontSize":8,"color":"#ff7f50"},
 "encoding":{"x":{"datum":188.8,"type":"quantitative","scale":{"domain":[-0.1,189],"nice":false,"zero":false},"axis":{"orient":"bottom","values":[0,16,32,48,64,80,96,112,128,144,160,176],"labelExpr":"['5 Jun 2012','8 Jun 12:00','13 Jun 04:00','15 Jun 20:00','20 Jun 12:00','25 Jun 04:00','27 Jun 20:00','2 Jul 12:00','5 Jul 04:00','9 Jul 20:00','12 Jul 12:00','17 Jul 04:00'][round(datum.value/16)]","labelAlign":"left","labelBaseline":"top","labelFontSize":8,"labelColor":"#000000","tickSize":3,"tickColor":"#000000","domainColor":"#000000","labelPadding":1,"grid":false,"title":null,"labelOverlap":false,"labelFlush":false,"labelBound":false}},
  "y":{"field":"p","type":"quantitative","scale":{"domain":[0.96993,1.03607],"nice":false,"zero":false},"axis":{"orient":"right","values":[0.9705,0.9745,0.9785,0.9825,0.9865,0.9905,0.9945,0.9985,1.0025,1.0065,1.0105,1.0145,1.0185,1.0225,1.0265,1.0305,1.0345],"format":".4f","labelFontSize":8,"labelColor":"#000000","tickSize":3,"tickColor":"#000000","domainColor":"#000000","labelPadding":2,"grid":false,"title":null,"labelOverlap":false,"labelFlush":false,"labelBound":false}},"text":{"field":"label"}}},
{"data":{"name":"levels"},"transform":[{"filter":"datum.set==='b1'"}],"mark":{"type":"text","align":"right","baseline":"bottom","dy":-1,"fontSize":8,"color":"#6464ff"},
 "encoding":{"x":{"datum":188.8,"type":"quantitative","scale":{"domain":[-0.1,189],"nice":false,"zero":false},"axis":{"orient":"bottom","values":[0,16,32,48,64,80,96,112,128,144,160,176],"labelExpr":"['5 Jun 2012','8 Jun 12:00','13 Jun 04:00','15 Jun 20:00','20 Jun 12:00','25 Jun 04:00','27 Jun 20:00','2 Jul 12:00','5 Jul 04:00','9 Jul 20:00','12 Jul 12:00','17 Jul 04:00'][round(datum.value/16)]","labelAlign":"left","labelBaseline":"top","labelFontSize":8,"labelColor":"#000000","tickSize":3,"tickColor":"#000000","domainColor":"#000000","labelPadding":1,"grid":false,"title":null,"labelOverlap":false,"labelFlush":false,"labelBound":false}},
  "y":{"field":"p","type":"quantitative","scale":{"domain":[0.96993,1.03607],"nice":false,"zero":false},"axis":{"orient":"right","values":[0.9705,0.9745,0.9785,0.9825,0.9865,0.9905,0.9945,0.9985,1.0025,1.0065,1.0105,1.0145,1.0185,1.0225,1.0265,1.0305,1.0345],"format":".4f","labelFontSize":8,"labelColor":"#000000","tickSize":3,"tickColor":"#000000","domainColor":"#000000","labelPadding":2,"grid":false,"title":null,"labelOverlap":false,"labelFlush":false,"labelBound":false}},"text":{"field":"label"}}},
{"data":{"name":"levels"},"transform":[{"filter":"datum.set==='b2'"}],"mark":{"type":"text","align":"right","baseline":"bottom","dy":-1,"fontSize":8,"color":"#3030ff"},
 "encoding":{"x":{"datum":188.8,"type":"quantitative","scale":{"domain":[-0.1,189],"nice":false,"zero":false},"axis":{"orient":"bottom","values":[0,16,32,48,64,80,96,112,128,144,160,176],"labelExpr":"['5 Jun 2012','8 Jun 12:00','13 Jun 04:00','15 Jun 20:00','20 Jun 12:00','25 Jun 04:00','27 Jun 20:00','2 Jul 12:00','5 Jul 04:00','9 Jul 20:00','12 Jul 12:00','17 Jul 04:00'][round(datum.value/16)]","labelAlign":"left","labelBaseline":"top","labelFontSize":8,"labelColor":"#000000","tickSize":3,"tickColor":"#000000","domainColor":"#000000","labelPadding":1,"grid":false,"title":null,"labelOverlap":false,"labelFlush":false,"labelBound":false}},
  "y":{"field":"p","type":"quantitative","scale":{"domain":[0.96993,1.03607],"nice":false,"zero":false},"axis":{"orient":"right","values":[0.9705,0.9745,0.9785,0.9825,0.9865,0.9905,0.9945,0.9985,1.0025,1.0065,1.0105,1.0145,1.0185,1.0225,1.0265,1.0305,1.0345],"format":".4f","labelFontSize":8,"labelColor":"#000000","tickSize":3,"tickColor":"#000000","domainColor":"#000000","labelPadding":2,"grid":false,"title":null,"labelOverlap":false,"labelFlush":false,"labelBound":false}},"text":{"field":"label"}}},
{"data":{"name":"texts"},"transform":[{"filter":"datum.pos==='top'"}],"mark":{"type":"text","align":"left","baseline":"middle","fontSize":9,"color":"#000000"},
 "encoding":{"x":{"datum":0.6,"type":"quantitative","scale":{"domain":[-0.1,189],"nice":false,"zero":false},"axis":{"orient":"bottom","values":[0,16,32,48,64,80,96,112,128,144,160,176],"labelExpr":"['5 Jun 2012','8 Jun 12:00','13 Jun 04:00','15 Jun 20:00','20 Jun 12:00','25 Jun 04:00','27 Jun 20:00','2 Jul 12:00','5 Jul 04:00','9 Jul 20:00','12 Jul 12:00','17 Jul 04:00'][round(datum.value/16)]","labelAlign":"left","labelBaseline":"top","labelFontSize":8,"labelColor":"#000000","tickSize":3,"tickColor":"#000000","domainColor":"#000000","labelPadding":1,"grid":false,"title":null,"labelOverlap":false,"labelFlush":false,"labelBound":false}},
  "y":{"datum":1.0352,"type":"quantitative","scale":{"domain":[0.96993,1.03607],"nice":false,"zero":false},"axis":{"orient":"right","values":[0.9705,0.9745,0.9785,0.9825,0.9865,0.9905,0.9945,0.9985,1.0025,1.0065,1.0105,1.0145,1.0185,1.0225,1.0265,1.0305,1.0345],"format":".4f","labelFontSize":8,"labelColor":"#000000","tickSize":3,"tickColor":"#000000","domainColor":"#000000","labelPadding":2,"grid":false,"title":null,"labelOverlap":false,"labelFlush":false,"labelBound":false}},"text":{"field":"t"}}},
{"data":{"name":"texts"},"transform":[{"filter":"datum.pos==='bottom'"}],"mark":{"type":"text","align":"left","baseline":"middle","fontSize":9,"color":"#000000"},
 "encoding":{"x":{"datum":0.8,"type":"quantitative","scale":{"domain":[-0.1,189],"nice":false,"zero":false},"axis":{"orient":"bottom","values":[0,16,32,48,64,80,96,112,128,144,160,176],"labelExpr":"['5 Jun 2012','8 Jun 12:00','13 Jun 04:00','15 Jun 20:00','20 Jun 12:00','25 Jun 04:00','27 Jun 20:00','2 Jul 12:00','5 Jul 04:00','9 Jul 20:00','12 Jul 12:00','17 Jul 04:00'][round(datum.value/16)]","labelAlign":"left","labelBaseline":"top","labelFontSize":8,"labelColor":"#000000","tickSize":3,"tickColor":"#000000","domainColor":"#000000","labelPadding":1,"grid":false,"title":null,"labelOverlap":false,"labelFlush":false,"labelBound":false}},
  "y":{"datum":0.97093,"type":"quantitative","scale":{"domain":[0.96993,1.03607],"nice":false,"zero":false},"axis":{"orient":"right","values":[0.9705,0.9745,0.9785,0.9825,0.9865,0.9905,0.9945,0.9985,1.0025,1.0065,1.0105,1.0145,1.0185,1.0225,1.0265,1.0305,1.0345],"format":".4f","labelFontSize":8,"labelColor":"#000000","tickSize":3,"tickColor":"#000000","domainColor":"#000000","labelPadding":2,"grid":false,"title":null,"labelOverlap":false,"labelFlush":false,"labelBound":false}},"text":{"field":"t"}}},
{"data":{"name":"bid"},"mark":{"type":"rect","color":"#000000"},
 "encoding":{"x":{"datum":189.3,"type":"quantitative","scale":{"domain":[-0.1,189],"nice":false,"zero":false},"axis":{"orient":"bottom","values":[0,16,32,48,64,80,96,112,128,144,160,176],"labelExpr":"['5 Jun 2012','8 Jun 12:00','13 Jun 04:00','15 Jun 20:00','20 Jun 12:00','25 Jun 04:00','27 Jun 20:00','2 Jul 12:00','5 Jul 04:00','9 Jul 20:00','12 Jul 12:00','17 Jul 04:00'][round(datum.value/16)]","labelAlign":"left","labelBaseline":"top","labelFontSize":8,"labelColor":"#000000","tickSize":3,"tickColor":"#000000","domainColor":"#000000","labelPadding":1,"grid":false,"title":null,"labelOverlap":false,"labelFlush":false,"labelBound":false}},"x2":{"datum":198.4},
  "y":{"datum":1.0318,"type":"quantitative","scale":{"domain":[0.96993,1.03607],"nice":false,"zero":false},"axis":{"orient":"right","values":[0.9705,0.9745,0.9785,0.9825,0.9865,0.9905,0.9945,0.9985,1.0025,1.0065,1.0105,1.0145,1.0185,1.0225,1.0265,1.0305,1.0345],"format":".4f","labelFontSize":8,"labelColor":"#000000","tickSize":3,"tickColor":"#000000","domainColor":"#000000","labelPadding":2,"grid":false,"title":null,"labelOverlap":false,"labelFlush":false,"labelBound":false}},"y2":{"datum":1.0307}}},
{"data":{"name":"bid"},"mark":{"type":"text","align":"center","baseline":"middle","fontSize":8.5,"color":"#ffffff"},
 "encoding":{"x":{"datum":193.8,"type":"quantitative","scale":{"domain":[-0.1,189],"nice":false,"zero":false},"axis":{"orient":"bottom","values":[0,16,32,48,64,80,96,112,128,144,160,176],"labelExpr":"['5 Jun 2012','8 Jun 12:00','13 Jun 04:00','15 Jun 20:00','20 Jun 12:00','25 Jun 04:00','27 Jun 20:00','2 Jul 12:00','5 Jul 04:00','9 Jul 20:00','12 Jul 12:00','17 Jul 04:00'][round(datum.value/16)]","labelAlign":"left","labelBaseline":"top","labelFontSize":8,"labelColor":"#000000","tickSize":3,"tickColor":"#000000","domainColor":"#000000","labelPadding":1,"grid":false,"title":null,"labelOverlap":false,"labelFlush":false,"labelBound":false}},
  "y":{"field":"p","type":"quantitative","scale":{"domain":[0.96993,1.03607],"nice":false,"zero":false},"axis":{"orient":"right","values":[0.9705,0.9745,0.9785,0.9825,0.9865,0.9905,0.9945,0.9985,1.0025,1.0065,1.0105,1.0145,1.0185,1.0225,1.0265,1.0305,1.0345],"format":".4f","labelFontSize":8,"labelColor":"#000000","tickSize":3,"tickColor":"#000000","domainColor":"#000000","labelPadding":2,"grid":false,"title":null,"labelOverlap":false,"labelFlush":false,"labelBound":false}},"text":{"field":"p","format":".4f"}}}
]
}
